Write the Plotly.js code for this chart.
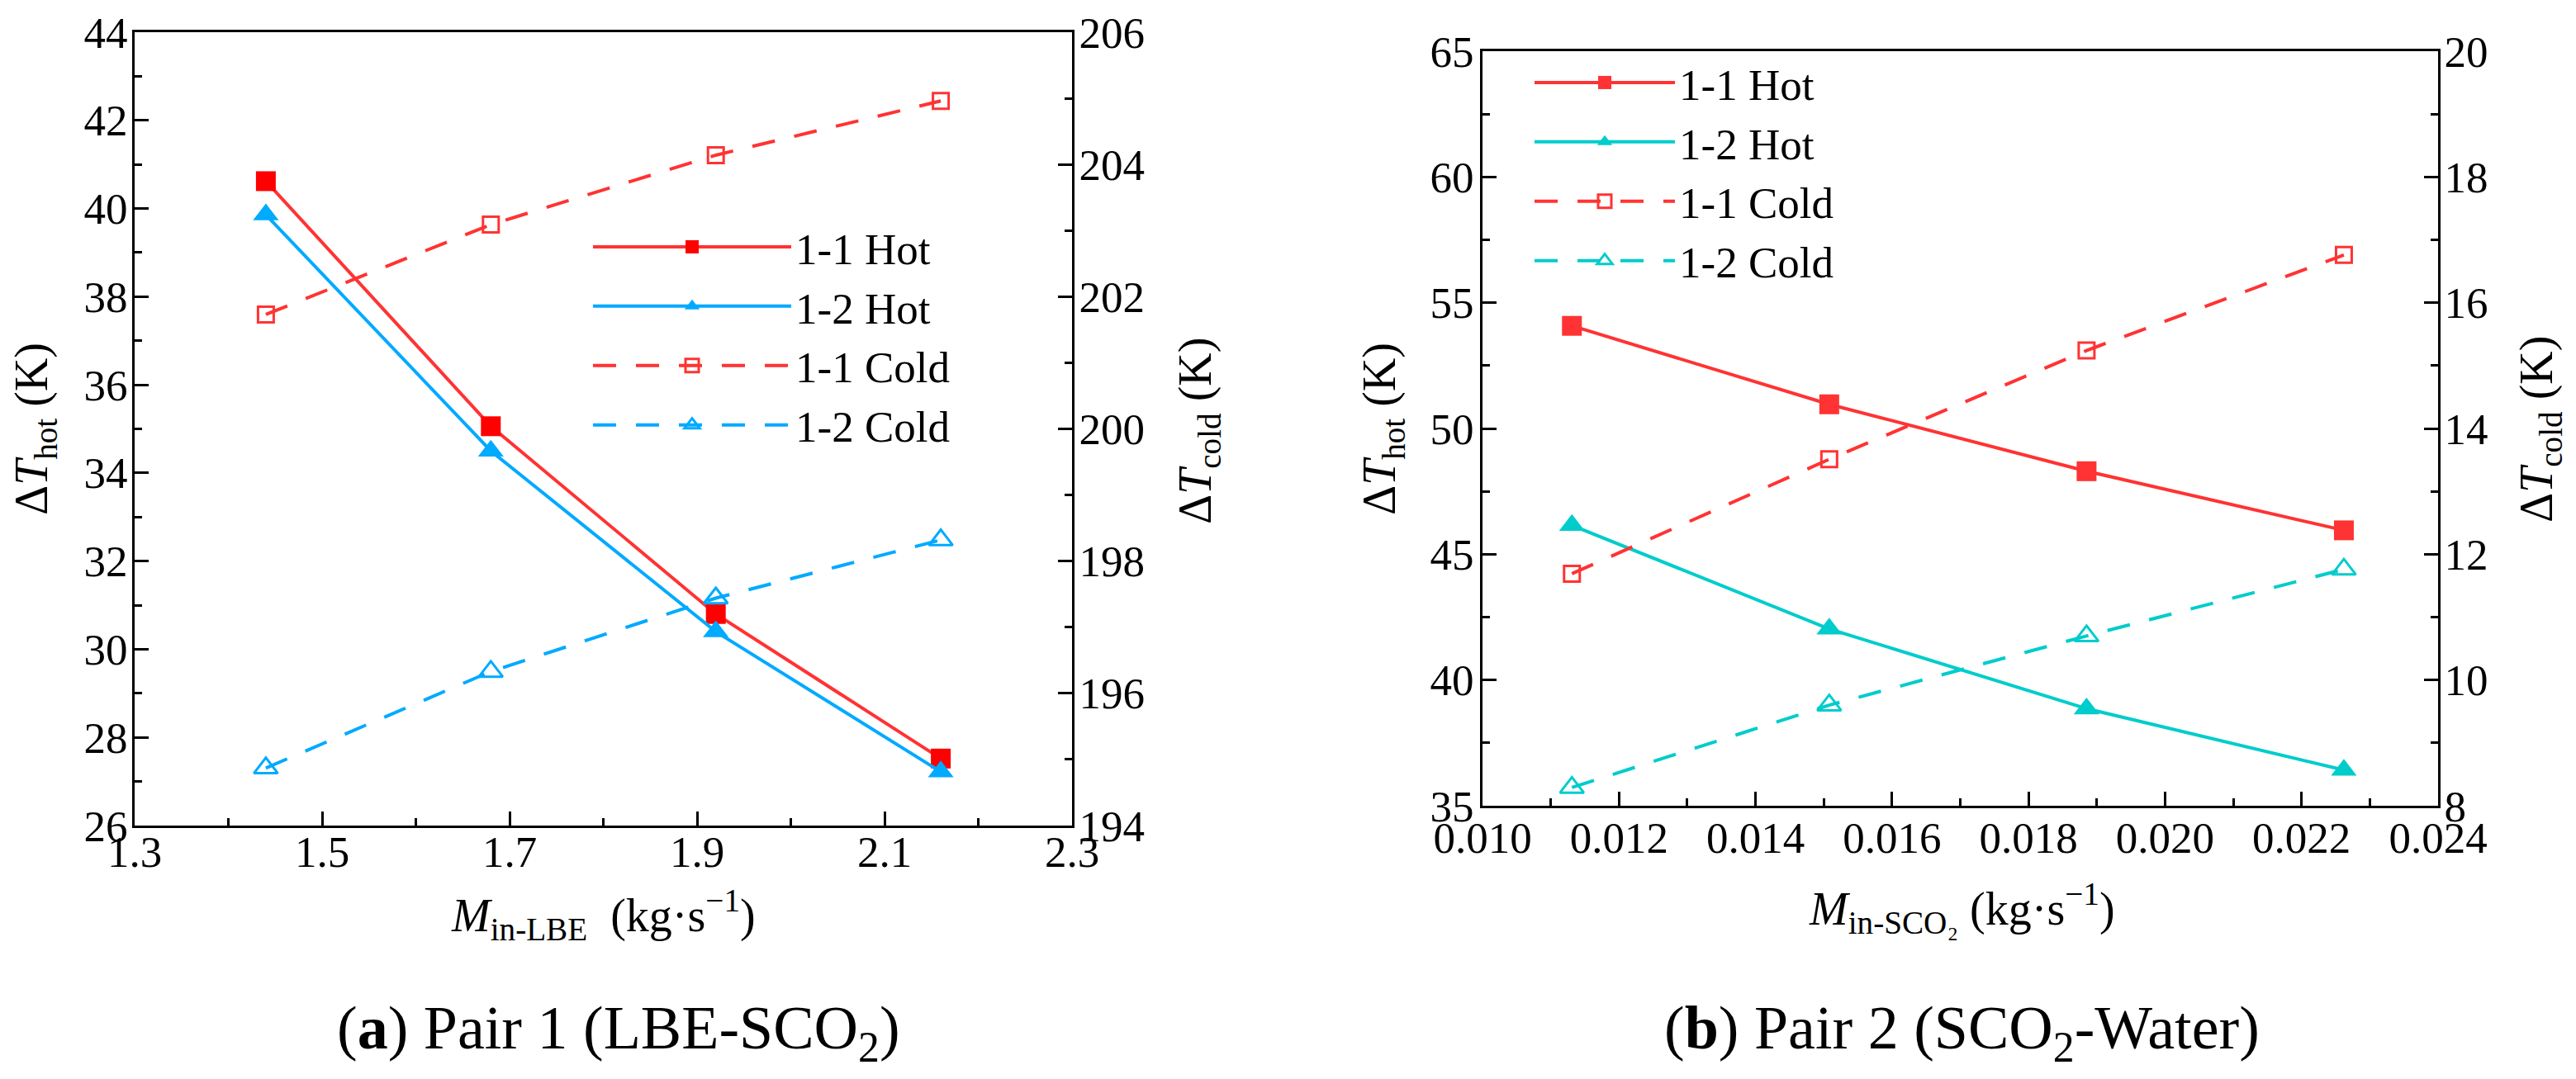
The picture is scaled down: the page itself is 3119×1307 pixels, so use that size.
<!DOCTYPE html>
<html>
<head>
<meta charset="utf-8">
<script src="https://cdn.plot.ly/plotly-3.0.1.min.js"></script>
<style>html,body{margin:0;padding:0;background:#fff;}#chart{width:3119px;height:1307px;}</style>
</head>
<body>
<div id="chart"></div>
<script>
// ---------- data ----------
const massLBE = [1.44, 1.68, 1.92, 2.16];
const pair1Hot11 = [40.62, 35.06, 30.80, 27.52];
const pair1Hot12 = [39.86, 34.50, 30.40, 27.22];
const pair1Cold11 = [201.73, 203.09, 204.14, 204.96];
const pair1Cold12 = [194.87, 196.33, 197.44, 198.32];

const massSCO2 = [0.01131, 0.01508, 0.01885, 0.02262];
const pair2Hot11 = [54.08, 50.96, 48.30, 45.95];
const pair2Hot12 = [46.15, 42.03, 38.86, 36.42];
const pair2Cold11 = [11.69, 13.51, 15.24, 16.76];
const pair2Cold12 = [8.29, 9.60, 10.70, 11.76];

const seriesNames = ['1-1 Hot', '1-2 Hot', '1-1 Cold', '1-2 Cold'];

// ---------- styling ----------
const W = 3119, H = 1307;
const FONT = '"Liberation Serif", "Times New Roman", Times, serif';
const RED = '#FF3333', RED_FILL = '#FF0000', BLUE = '#00AAFF', CYAN = '#00CCCC';
const DASH = '28px,24px';
const px = v => v / W;
const py = v => 1 - v / H;

function hot(x, y, name, color, fill, symbol, size, xa, ya, leg) {
  return {x: x, y: y, name: name, type: 'scatter', mode: 'lines+markers',
    xaxis: xa, yaxis: ya, legend: leg, cliponaxis: false,
    line: {color: color, width: 4},
    marker: {symbol: symbol, size: size, color: fill, line: {width: 0}}};
}
function cold(x, y, name, color, symbol, size, xa, ya, leg) {
  return {x: x, y: y, name: name, type: 'scatter', mode: 'lines+markers',
    xaxis: xa, yaxis: ya, legend: leg, cliponaxis: false,
    line: {color: color, width: 4, dash: DASH},
    marker: {symbol: symbol, size: size, color: color, line: {color: color, width: 3}}};
}

const traces = [
  hot(massLBE, pair1Hot11, seriesNames[0], RED, RED_FILL, 'square', 24, 'x', 'y', 'legend'),
  hot(massLBE, pair1Hot12, seriesNames[1], BLUE, BLUE, 'triangle-up', 27, 'x', 'y', 'legend'),
  cold(massLBE, pair1Cold11, seriesNames[2], RED, 'square-open', 19, 'x', 'y2', 'legend'),
  cold(massLBE, pair1Cold12, seriesNames[3], BLUE, 'triangle-up-open', 25, 'x', 'y2', 'legend'),
  hot(massSCO2, pair2Hot11, seriesNames[0], RED, RED, 'square', 24, 'x2', 'y3', 'legend2'),
  hot(massSCO2, pair2Hot12, seriesNames[1], CYAN, CYAN, 'triangle-up', 27, 'x2', 'y3', 'legend2'),
  cold(massSCO2, pair2Cold11, seriesNames[2], RED, 'square-open', 19, 'x2', 'y4', 'legend2'),
  cold(massSCO2, pair2Cold12, seriesNames[3], CYAN, 'triangle-up-open', 25, 'x2', 'y4', 'legend2')
];

function minorTicks(dtick, tick0) {
  const m = {ticks: 'inside', ticklen: 9, tickwidth: 3, tickcolor: '#000', showgrid: false, dtick: dtick};
  if (tick0 !== undefined) m.tick0 = tick0;
  return m;
}
function axis(extra) {
  return Object.assign({
    showgrid: false, zeroline: false, showline: true, linecolor: '#000', linewidth: 3,
    ticks: 'inside', ticklen: 17, tickwidth: 3, tickcolor: '#000',
    tickfont: {family: FONT, size: 53, color: '#000'},
    fixedrange: true
  }, extra);
}

function ann(text, x, y, angle, size) {
  return {text: text, x: px(x), y: py(y), xref: 'paper', yref: 'paper',
    xanchor: 'center', yanchor: 'middle', showarrow: false, textangle: angle || 0,
    font: {family: FONT, size: size || 56, color: '#000'}};
}

const legendBase = {
  xanchor: 'left', yanchor: 'top', bgcolor: 'rgba(0,0,0,0)', borderwidth: 0,
  font: {family: FONT, size: 53, color: '#000'}, tracegroupgap: 0
};

const layout = {
  width: W, height: H, margin: {l: 0, r: 0, t: 0, b: 0},
  paper_bgcolor: '#fff', plot_bgcolor: 'rgba(0,0,0,0)',
  font: {family: FONT, color: '#000'},
  showlegend: true,
  xaxis: axis({domain: [px(163), px(1298)], range: [1.3, 2.3], tick0: 1.3, dtick: 0.2,
    minor: minorTicks(0.1, 1.3), ticklabelstandoff: -17, mirror: true, anchor: 'y'}),
  yaxis: axis({domain: [1 - 1000 / H, 1 - 39 / H], range: [26, 44], dtick: 2, tick0: 26,
    minor: minorTicks(1), ticklabelstandoff: -5, anchor: 'x'}),
  yaxis2: axis({range: [194, 206], dtick: 2, tick0: 194,
    minor: minorTicks(1), ticklabelstandoff: -5, overlaying: 'y', side: 'right', anchor: 'x'}),
  xaxis2: axis({domain: [px(1795), px(2952)], range: [0.010, 0.024], tick0: 0.010, dtick: 0.002,
    tickformat: '.3f', minor: minorTicks(0.001, 0.010), ticklabelstandoff: -10,
    mirror: true, anchor: 'y3'}),
  yaxis3: axis({domain: [1 - 976 / H, 1 - 62 / H], range: [35, 65], dtick: 5, tick0: 35,
    minor: minorTicks(2.5), ticklabelstandoff: -3, anchor: 'x2'}),
  yaxis4: axis({range: [8, 20], dtick: 2, tick0: 8,
    minor: minorTicks(1), ticklabelstandoff: -6, overlaying: 'y3', side: 'right', anchor: 'x2'}),
  legend: Object.assign({}, legendBase, {x: px(713), y: py(258), itemwidth: 240}),
  legend2: Object.assign({}, legendBase, {x: px(1853), y: py(59), itemwidth: 170}),
  annotations: [
    ann('Δ<i>T</i><sub>hot</sub> (K)', 42, 520, -90),
    ann('Δ<i>T</i><sub>cold</sub> (K)', 1451, 522, -90),
    ann('<i>M</i><sub>in-LBE</sub>  (kg·s<sup>−1</sup>)', 730, 1108, 0),
    ann('Δ<i>T</i><sub>hot</sub> (K)', 1674, 520, -90),
    ann('Δ<i>T</i><sub>cold</sub> (K)', 3075, 520, -90),
    ann('<i>M</i><sub>in-SCO₂</sub> (kg·s<sup>−1</sup>)', 2375, 1100, 0),
    ann('(<b>a</b>) Pair 1 (LBE-SCO<sub>2</sub>)', 749, 1250, 0, 74),
    ann('(<b>b</b>) Pair 2 (SCO<sub>2</sub>-Water)', 2375, 1250, 0, 74)
  ]
};

Plotly.newPlot('chart', traces, layout, {staticPlot: true, displayModeBar: false});
</script>
</body>
</html>
